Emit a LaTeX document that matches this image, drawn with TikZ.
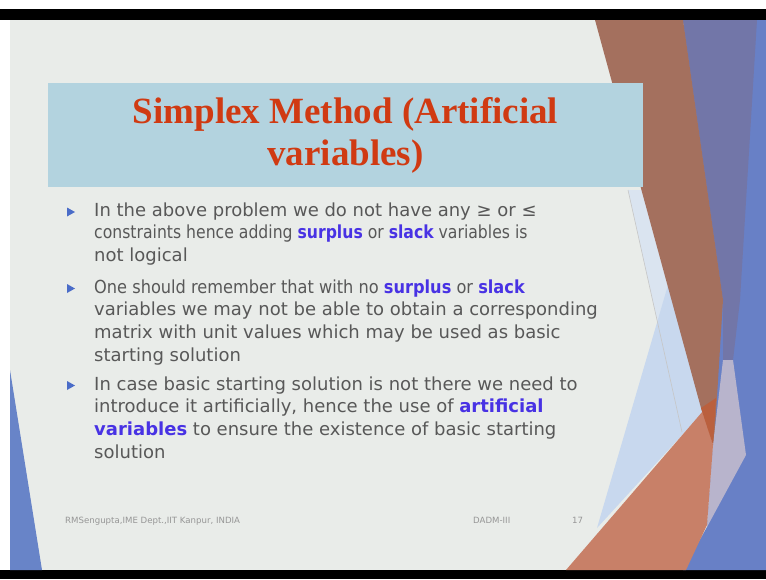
\documentclass[tikz,border=0pt]{standalone}
\usepackage{fontspec}
\setmainfont{DejaVu Sans}
\newfontfamily\narrowfont{DejaVu Sans}[FakeStretch=0.87]
\newfontfamily\semifont{DejaVu Sans}[FakeStretch=0.90]
\newfontfamily\titlefont{Liberation Serif}
\definecolor{slidebg}{RGB}{233,236,233}
\definecolor{titlebox}{RGB}{179,211,223}
\definecolor{titlered}{RGB}{208,58,18}
\definecolor{bodygray}{RGB}{88,88,88}
\definecolor{keyblue}{RGB}{72,50,228}
\definecolor{bulletblue}{RGB}{74,108,200}
\definecolor{brightblue}{RGB}{104,128,198}
\definecolor{slate}{RGB}{114,118,168}
\definecolor{brown}{RGB}{164,112,94}
\definecolor{salmon}{RGB}{200,128,104}
\definecolor{darkorange}{RGB}{186,96,62}
\definecolor{lavender}{RGB}{184,180,204}
\definecolor{lightblue}{RGB}{200,216,238}
\definecolor{paleblue}{RGB}{218,228,240}
\definecolor{leftblue}{RGB}{104,132,200}
\definecolor{footgray}{RGB}{150,150,150}
\tikzset{
  bodyline/.style={anchor=base west, inner sep=0pt, text=bodygray, font=\fontsize{18}{22}\selectfont},
  narrowline/.style={bodyline, font=\narrowfont\fontsize{18}{22}\selectfont},
  semiline/.style={bodyline, font=\semifont\fontsize{18}{22}\selectfont},
  titleline/.style={anchor=base, inner sep=0pt, text=titlered, font=\titlefont\bfseries\fontsize{37}{42}\selectfont},
  footer/.style={anchor=base west, inner sep=0pt, text=footgray, font=\fontsize{8.6}{10}\selectfont},
  bulletmark/.style={fill=bulletblue},
}
\newcommand{\kw}[1]{\textcolor{keyblue}{\bfseries #1}}
\begin{document}
\begin{tikzpicture}[x=1pt,y=-1pt]
\useasboundingbox (0,0) rectangle (766,579);
% frame
\fill[white] (0,0) rectangle (766,579);
\fill[slidebg] (10,20) rectangle (766,570);
\fill[black] (0,9) rectangle (766,20);
\fill[black] (0,570) rectangle (766,579);
% left decoration
\fill[leftblue] (10,370) -- (42,570) -- (10,570) -- cycle;
% right decoration
\fill[brightblue] (683,20) -- (766,20) -- (766,570) -- (683,570) -- (707,527) -- (713,445) -- cycle;
\fill[slate] (683,20) -- (757,20) -- (740,300) -- (733,360) -- (723,360) -- (723,300) -- cycle;
\fill[paleblue] (628,190) -- (642,190) -- (704,411) -- (682,432) -- cycle;
\fill[lightblue] (668,285) -- (704,411) -- (597,528) -- cycle;
\fill[brown] (595,20) -- (683,20) -- (723,300) -- (714,445) -- (701,408) -- cycle;
\fill[lavender] (723,360) -- (733,360) -- (746,455) -- (707,527) -- (713,445) -- cycle;
\fill[salmon] (703,411) -- (713,445) -- (707,525) -- (686,570) -- (566,570) -- cycle;
\fill[darkorange] (701,408) -- (716,398) -- (713,445) -- cycle;
\draw[gray!45, line width=0.6pt] (628,190) -- (682,432);
% title
\fill[titlebox] (48,83) rectangle (643,187);
\node[titleline] (t1) at (345.5,123) {Simplex Method (Artificial};
\node[titleline] (t2) at (345.5,165) {variables)};
% bullets
\fill[bulletmark] (67,207.5) -- (75,212) -- (67,216.5) -- cycle;
\fill[bulletmark] (67,284) -- (75,288.5) -- (67,293) -- cycle;
\fill[bulletmark] (67,381) -- (75,385.5) -- (67,390) -- cycle;
% body
\node[bodyline] (a1) at (94,216) {In the above problem we do not have any ≥ or ≤};
\node[narrowline] (a2) at (94,238.7) {constraints hence adding \kw{surplus} or \kw{slack} variables is};
\node[bodyline] (a3) at (94,261.4) {not logical};
\node[semiline] (b1) at (94,293) {One should remember that with no \kw{surplus} or \kw{slack}};
\node[bodyline] (b2) at (94,315.7) {variables we may not be able to obtain a corresponding};
\node[bodyline] (b3) at (94,338.4) {matrix with unit values which may be used as basic};
\node[bodyline] (b4) at (94,361.1) {starting solution};
\node[bodyline] (c1) at (94,390) {In case basic starting solution is not there we need to};
\node[bodyline] (c2) at (94,412.7) {introduce it artificially, hence the use of \kw{artificial}};
\node[bodyline] (c3) at (94,435.4) {\kw{variables} to ensure the existence of basic starting};
\node[bodyline] (c4) at (94,458.1) {solution};
% footer
\node[footer] (f1) at (65,523) {RMSengupta,IME Dept.,IIT Kanpur, INDIA};
\node[footer] (f2) at (473,523) {DADM-III};
\node[footer] (f3) at (572,523) {17};
\end{tikzpicture}
\end{document}
